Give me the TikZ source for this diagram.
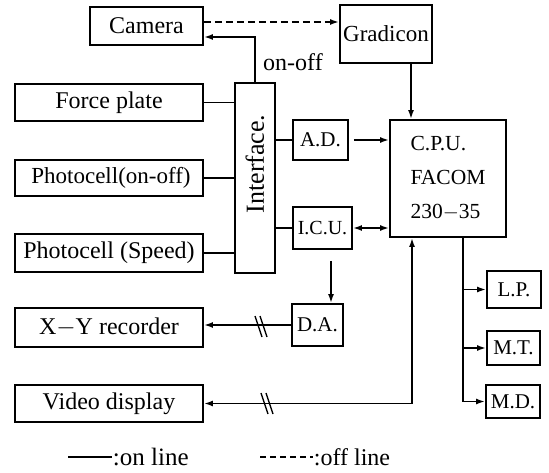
\documentclass[tikz,border=0pt]{standalone}
\usepackage{fontspec}
\setmainfont{Liberation Serif}
\usetikzlibrary{arrows.meta,calc}
\begin{document}
\begin{tikzpicture}[x=1pt,y=-1pt,
  line width=1.8pt,
  >={Latex[length=9pt,width=6pt]},
  box/.style={draw,line width=1.8pt,inner sep=0pt,anchor=center,font=\fontsize{24}{26}\selectfont},
  smallbox/.style={box,font=\fontsize{21}{24}\selectfont},
  lbl/.style={inner sep=0pt,font=\fontsize{24}{26}\selectfont},
  slash/.style={line width=1.3pt}]
\useasboundingbox (0,0) rectangle (549,473);
% boxes
\node[box,minimum width=113pt,minimum height=38pt] (camera) at (146.5,26) {Camera};
\node[box,minimum width=92pt,minimum height=58pt,font=\fontsize{23}{26}\selectfont] (gradicon) at (386,34) {Gradicon};
\node[box,minimum width=188pt,minimum height=37pt] (force) at (109,102.5) {Force plate};
\node[box,minimum width=188pt,minimum height=36pt,font=\fontsize{23}{26}\selectfont] (pon) at (109,178) {\hspace*{4pt}Photocell(on-off)};
\node[box,minimum width=188pt,minimum height=38pt] (psp) at (109,253) {Photocell (Speed)};
\node[box,minimum width=40pt,minimum height=190pt] (interface) at (255,178) {};
\node[lbl,rotate=90,font=\fontsize{26}{28}\selectfont] (interfacetext) at (255,164) {Interface.};
\node[smallbox,minimum width=55pt,minimum height=40pt] (ad) at (320.5,140) {A.D.};
\node[box,minimum width=116pt,minimum height=117pt,align=left,font=\fontsize{21.5}{34}\selectfont] (cpu) at (448,178.5) {C.P.U.\\FACOM\\230$-$35};
\node[smallbox,minimum width=59pt,minimum height=42pt,font=\fontsize{20}{24}\selectfont] (icu) at (322.5,228) {I.C.U.};
\node[smallbox,minimum width=51pt,minimum height=42pt] (da) at (317.5,325) {D.A.};
\node[box,minimum width=188pt,minimum height=39pt] (xy) at (109,327.5) {X$-$Y recorder};
\node[box,minimum width=188pt,minimum height=37pt] (video) at (109,403.5) {Video display};
\node[smallbox,minimum width=54pt,minimum height=37pt] (lp) at (514,289.5) {L.P.};
\node[smallbox,minimum width=53pt,minimum height=34pt] (mt) at (513.5,348) {M.T.};
\node[smallbox,minimum width=54pt,minimum height=33pt] (md) at (513,401.5) {M.D.};
% helper coordinates
\coordinate (dy) at (0,22);
\coordinate (oy) at (0,37);
\coordinate (gx) at (411,0);
\coordinate (dx) at (331,0);
\coordinate (bx) at (412,0);
\coordinate (ox) at (463,0);
% connectors
\draw[->,dashed,dash pattern=on 7pt off 4pt] (camera.east |- dy) -- (gradicon.west |- dy);
\draw[->] (interface.north) |- (camera.east |- oy);
\node[lbl] (onoff) at (293,62) {on-off};
\draw (force.east) -- (interface.west |- force.east);
\draw (pon.east) -- (interface.west |- pon.east);
\draw (psp.east) -- (interface.west |- psp.east);
\draw (interface.east |- ad.west) -- (ad.west);
\draw[->,shorten <=5pt] (ad.east) -- (cpu.west |- ad.east);
\draw (interface.east |- icu.west) -- (icu.west);
\draw[<->] (icu.east) -- (cpu.west |- icu.east);
\draw[->] (gradicon.south -| gx) -- (cpu.north -| gx);
\draw[->,shorten <=11pt] (icu.south -| dx) -- (da.north -| dx);
\draw[->] (da.west) -- (xy.east |- da.west);
\draw[<->] (video.east) -| (cpu.south -| bx);
\draw (cpu.south -| ox) -- (ox |- md.west);
\draw[->] (ox |- lp.west) -- (lp.west);
\draw[->] (ox |- mt.west) -- (mt.west);
\draw[->] (ox |- md.west) -- (md.west);
% break marks
\draw[slash] (255,316) -- (262,337);
\draw[slash] (260,316) -- (267,337);
\draw[slash] (261,393) -- (268,414);
\draw[slash] (266,393) -- (273,414);
% legend
\coordinate (l1a) at (68,457);
\coordinate (l1b) at (112,457);
\coordinate (l2a) at (260,457);
\coordinate (l2b) at (313,457);
\draw (l1a) -- (l1b);
\node[lbl,anchor=west,font=\fontsize{25}{27}\selectfont] (ltext1) at (l1b) {:on line};
\draw[dashed,dash pattern=on 6pt off 4pt] (l2a) -- (l2b);
\node[lbl,anchor=west] (ltext2) at (l2b) {:off line};
\end{tikzpicture}
\end{document}
